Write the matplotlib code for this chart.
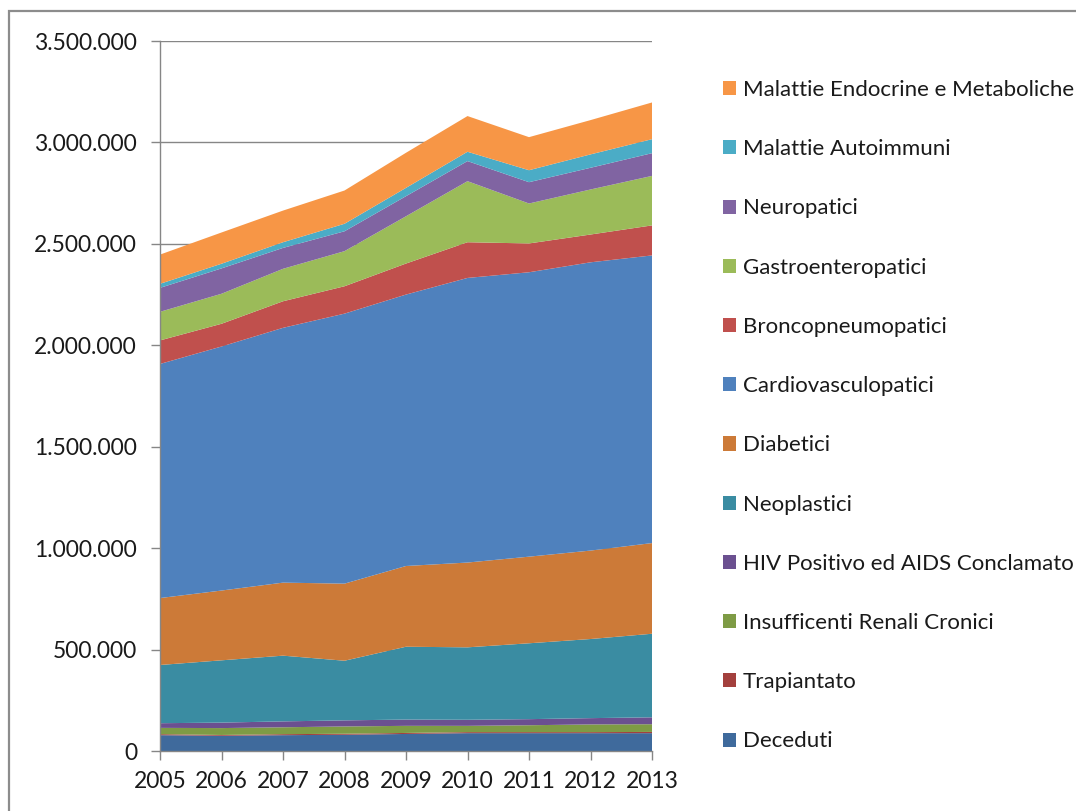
import matplotlib
matplotlib.use("Agg")
import matplotlib.pyplot as plt
from matplotlib.patches import Rectangle, Patch
from matplotlib.ticker import FuncFormatter, MultipleLocator

years = [2005, 2006, 2007, 2008, 2009, 2010, 2011, 2012, 2013]

deceduti = [78000, 75000, 78000, 80000, 84000, 88000, 88000, 88000, 88000]
trapiantato = [5000, 4000, 5000, 5000, 5000, 5000, 5000, 5000, 6000]
insuff_renali = [31000, 34000, 34000, 36000, 35000, 31000, 34000, 38000, 38000]
hiv_aids = [23000, 27000, 29000, 30000, 31000, 30000, 30000, 31000, 34000]
neoplastici = [287000, 307000, 324000, 294000, 359000, 357000, 374000, 390000, 412000]
diabetici = [330000, 344000, 360000, 380000, 398000, 418000, 427000, 436000, 447000]
cardiovasculopatici = [1154000, 1203000, 1256000, 1331000, 1338000, 1403000, 1402000, 1421000, 1418000]
broncopneumopatici = [116000, 112000, 131000, 135000, 153000, 176000, 142000, 137000, 148000]
gastroenteropatici = [141000, 148000, 160000, 173000, 233000, 301000, 197000, 222000, 244000]
neuropatici = [118000, 125000, 103000, 98000, 99000, 99000, 105000, 107000, 112000]
autoimmuni = [20000, 23000, 28000, 37000, 41000, 46000, 59000, 66000, 69000]
endocrine = [144000, 154000, 156000, 164000, 173000, 176000, 163000, 169000, 181000]

labels = ["Deceduti", "Trapiantato", "Insufficenti Renali Cronici",
          "HIV Positivo ed AIDS Conclamato", "Neoplastici", "Diabetici",
          "Cardiovasculopatici", "Broncopneumopatici", "Gastroenteropatici",
          "Neuropatici", "Malattie Autoimmuni", "Malattie Endocrine e Metaboliche"]
series = [deceduti, trapiantato, insuff_renali, hiv_aids, neoplastici, diabetici,
          cardiovasculopatici, broncopneumopatici, gastroenteropatici,
          neuropatici, autoimmuni, endocrine]
colors = ["#3F6A9C", "#A3403D", "#7E9B45", "#6B5090", "#3A8CA2", "#CC7A38",
          "#4F81BD", "#C0504D", "#9BBB59", "#8064A2", "#4BACC6", "#F79646"]

plt.rcParams['font.family'] = ['Lato', 'DejaVu Sans']

W, H = 1076, 811
fig = plt.figure(figsize=(W / 100, H / 100), dpi=100)
fig.patch.set_facecolor("white")

# chart-area border
fig.patches.append(Rectangle((9 / W, 0 - 0.05), 1.2, 1 - 11 / H + 0.05,
                             transform=fig.transFigure, fill=False,
                             edgecolor="#8C8C8C", linewidth=1.6, zorder=0))

ax = fig.add_axes([160 / W, (H - 751) / H, (652 - 160) / W, (751 - 41) / H])
ax.stackplot(years, *series, colors=colors, labels=labels, linewidth=0)

ax.set_xlim(2005, 2013)
ax.set_ylim(0, 3500000)
ax.yaxis.set_major_locator(MultipleLocator(500000))
ax.yaxis.set_major_formatter(FuncFormatter(lambda v, p: f"{int(v):,}".replace(",", ".")))
ax.set_xticks(years)
ax.set_xticklabels([str(y) for y in years])

ax.grid(axis="y", color="#868686", linewidth=1.0)
ax.set_axisbelow(True)
for s in ["top", "right"]:
    ax.spines[s].set_visible(False)
for s in ["left", "bottom"]:
    ax.spines[s].set_color("#868686")
    ax.spines[s].set_linewidth(1.0)
ax.tick_params(axis="both", direction="out", length=6.5, width=1.0,
               color="#868686", labelsize=16.5, labelcolor="#1a1a1a")
ax.tick_params(axis="y", pad=10)
ax.tick_params(axis="x", pad=8)

handles = [Patch(facecolor=c, edgecolor="none") for c in colors][::-1]
leg = fig.legend(handles, labels[::-1], loc="upper left",
                 bbox_to_anchor=(703 / W, 1 - 60 / H), frameon=False,
                 fontsize=16, labelspacing=1.765, handlelength=0.6,
                 handleheight=0.6, handletextpad=0.3, labelcolor="#1a1a1a")

fig.savefig("out.png", dpi=100)
